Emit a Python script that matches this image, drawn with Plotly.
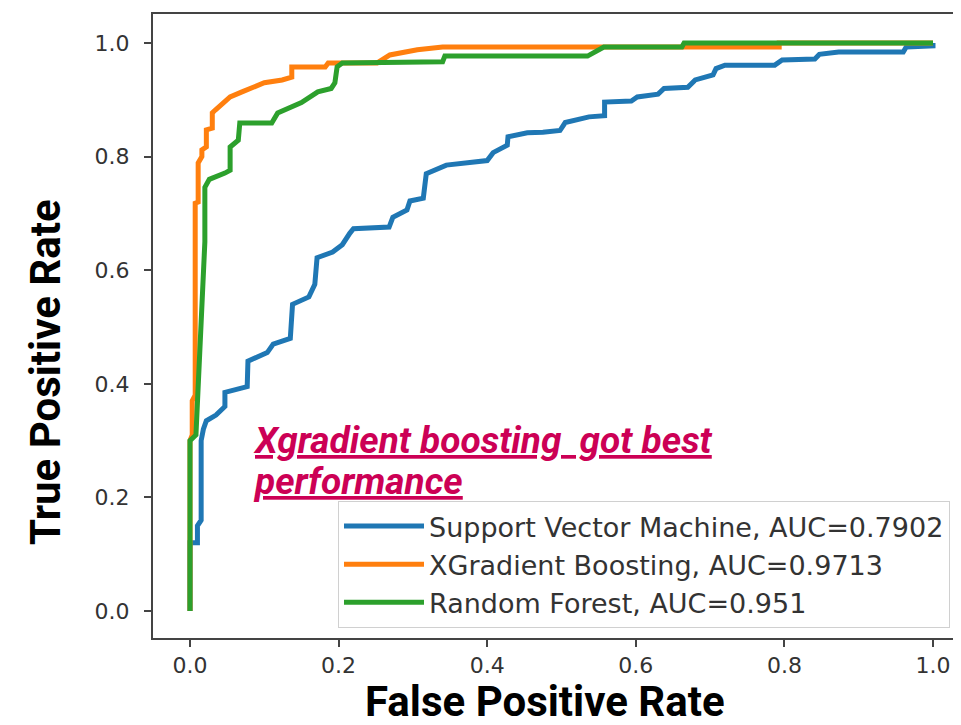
import plotly.graph_objects as go

# ---------------- data ----------------
svm_fpr = [0, 0, 0.01, 0.01, 0.015, 0.015, 0.018, 0.022, 0.035, 0.047, 0.047, 0.063, 0.077, 0.078,
           0.09, 0.104, 0.112, 0.135, 0.138, 0.16, 0.168, 0.171, 0.192, 0.205, 0.215, 0.22, 0.268,
           0.273, 0.292, 0.296, 0.314, 0.318, 0.345, 0.373, 0.40, 0.408, 0.427, 0.428, 0.454, 0.475,
           0.498, 0.505, 0.537, 0.558, 0.558, 0.594, 0.602, 0.63, 0.638, 0.67, 0.68, 0.704, 0.708,
           0.72, 0.787, 0.797, 0.841, 0.847, 0.873, 0.96, 0.964, 1.0, 1.0]
svm_tpr = [0, 0.12, 0.12, 0.15, 0.16, 0.30, 0.32, 0.335, 0.345, 0.36, 0.385, 0.39, 0.395, 0.44,
           0.447, 0.455, 0.47, 0.48, 0.54, 0.553, 0.575, 0.622, 0.632, 0.645, 0.665, 0.673, 0.676,
           0.693, 0.706, 0.722, 0.727, 0.77, 0.785, 0.79, 0.793, 0.807, 0.82, 0.835, 0.842, 0.843,
           0.846, 0.86, 0.87, 0.872, 0.896, 0.898, 0.905, 0.91, 0.92, 0.922, 0.935, 0.944, 0.955,
           0.961, 0.961, 0.97, 0.972, 0.98, 0.984, 0.984, 0.993, 0.995, 1.0]

xgb_fpr = [0, 0, 0.003, 0.003, 0.007, 0.007, 0.011, 0.011, 0.016, 0.016, 0.022, 0.022, 0.030,
           0.030, 0.034, 0.047, 0.054, 0.07, 0.092, 0.10, 0.124, 0.137, 0.137, 0.182, 0.186,
           0.252, 0.269, 0.306, 0.34, 0.793, 0.793, 1.0]
xgb_tpr = [0, 0.30, 0.31, 0.37, 0.38, 0.718, 0.72, 0.789, 0.80, 0.812, 0.817, 0.847, 0.85,
           0.877, 0.882, 0.896, 0.905, 0.914, 0.926, 0.93, 0.935, 0.94, 0.958, 0.958, 0.965,
           0.965, 0.979, 0.988, 0.993, 0.993, 1.0, 1.0]

rf_fpr = [0, 0, 0.008, 0.013, 0.018, 0.020, 0.020, 0.026, 0.047, 0.054, 0.054, 0.061, 0.065,
          0.067, 0.11, 0.118, 0.128, 0.15, 0.172, 0.19, 0.195, 0.198, 0.205, 0.34, 0.343,
          0.535, 0.557, 0.662, 0.665, 1.0]
rf_tpr = [0, 0.30, 0.31, 0.45, 0.58, 0.65, 0.746, 0.76, 0.771, 0.776, 0.817, 0.824, 0.829,
          0.859, 0.859, 0.877, 0.882, 0.895, 0.914, 0.92, 0.93, 0.958, 0.965, 0.967, 0.977,
          0.977, 0.993, 0.993, 1.0, 1.0]

series_names = ["Support Vector Machine, AUC=0.7902",
                "XGradient Boosting, AUC=0.9713",
                "Random Forest, AUC=0.951"]
series_colors = ["#1f77b4", "#ff7f0e", "#2ca02c"]
tick_vals = [0.0, 0.2, 0.4, 0.6, 0.8, 1.0]
tick_text = ["0.0", "0.2", "0.4", "0.6", "0.8", "1.0"]

# ---------------- figure ----------------
OFF = 8                      # default page body margin
W, H = 961 - OFF, 725 - OFF
ML, MR, MT, MB = 153 - OFF, 0, 14 - OFF, 87
PW, PH = W - ML - MR, H - MT - MB


def px_x(p):
    return (p - OFF - ML) / PW


def px_y(p):
    return (OFF + H - MB - p) / PH


fig = go.Figure()
for fx, ty, name, col in zip([svm_fpr, xgb_fpr, rf_fpr], [svm_tpr, xgb_tpr, rf_tpr],
                             series_names, series_colors):
    fig.add_trace(go.Scatter(x=fx, y=ty, mode="lines", name=name,
                             line=dict(color=col, width=5)))

fig.update_layout(
    width=W, height=H,
    margin=dict(l=ML, r=MR, t=MT, b=MB, pad=0),
    paper_bgcolor="white", plot_bgcolor="white",
    showlegend=True,
    legend=dict(x=px_x(950), y=px_y(628), xanchor="right", yanchor="bottom",
                bgcolor="white", bordercolor="#d0d0d0", borderwidth=1,
                font=dict(family="DejaVu Sans", size=27, color="#333333"),
                itemwidth=80, tracegroupgap=0),
    xaxis=dict(range=[-0.0498, 1.0377], tickvals=tick_vals, ticktext=tick_text,
               showgrid=False, zeroline=False, showline=True, linecolor="#444444",
               linewidth=2, mirror=True, ticks="outside", ticklen=7, tickwidth=1.5,
               tickcolor="#444444",
               tickfont=dict(family="DejaVu Sans", size=22, color="#333333")),
    yaxis=dict(range=[-0.0475, 1.0511], tickvals=tick_vals, ticktext=tick_text,
               showgrid=False, zeroline=False, showline=True, linecolor="#444444",
               linewidth=2, mirror=False, ticks="outside", ticklen=7, tickwidth=1.5,
               tickcolor="#444444",
               tickfont=dict(family="DejaVu Sans", size=22, color="#333333"),
               ticklabelstandoff=10),
)

title_font = dict(family="Roboto", size=42, color="black", weight="bold")
note_font = dict(family="Roboto", size=37, color="#cc0055", weight="bold",
                 style="italic", lineposition="under")
fig.add_annotation(text="False Positive Rate", xref="paper", yref="paper",
                   x=px_x(545), y=px_y(701), xanchor="center", yanchor="middle",
                   height=40, valign="middle",
                   showarrow=False, font=title_font)
fig.add_annotation(text="True Positive Rate", xref="paper", yref="paper",
                   x=px_x(45), y=px_y(372), xanchor="center", yanchor="middle",
                   textangle=-90, showarrow=False, font=title_font)
fig.add_annotation(text="Xgradient boosting  got best", xref="paper", yref="paper",
                   x=px_x(251), y=px_y(440), xanchor="left", yanchor="middle",
                   showarrow=False, font=note_font)
fig.add_annotation(text="performance", xref="paper", yref="paper",
                   x=px_x(251), y=px_y(481), xanchor="left", yanchor="middle",
                   showarrow=False, font=note_font)

fig.write_html("out.html")
